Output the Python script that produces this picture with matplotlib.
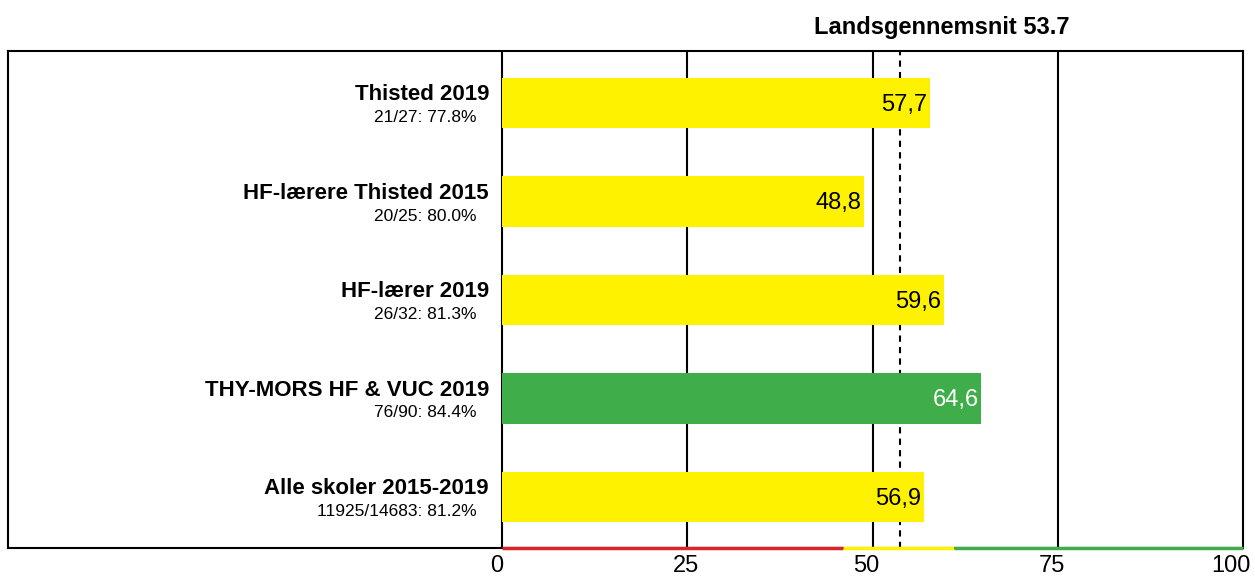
import matplotlib
matplotlib.use("Agg")
import matplotlib.pyplot as plt
import matplotlib.transforms as mtransforms

plt.rcParams['font.family'] = ['Liberation Sans', 'DejaVu Sans']

# data
names = ["Thisted 2019", "HF-lærere Thisted 2015", "HF-lærer 2019",
         "THY-MORS HF & VUC 2019", "Alle skoler 2015-2019"]
subtitles = ["21/27: 77.8%", "20/25: 80.0%", "26/32: 81.3%",
             "76/90: 84.4%", "11925/14683: 81.2%"]
values = [57.7, 48.8, 59.6, 64.6, 56.9]
highlight = [False, False, False, True, False]
landsgennemsnit = 53.7
band_edges = [0, 46, 61, 100]
band_colors = ["#d9262b", "#fff200", "#3fae4a"]
xticks = [0, 25, 50, 75, 100]

YELLOW = "#fff200"
GREEN = "#3fae4a"

fig = plt.figure(figsize=(12.55, 5.78), dpi=100)
W, H = 1255, 578
ax = fig.add_axes([8 / W, 30 / H, (1243 - 8) / W, (548 - 51) / H])

ax.set_xlim(-66.67, 100)
ax.set_ylim(4.518, -0.528)

# vertical lines (separator at 0 and grid)
for g in xticks[:-1]:
    ax.axvline(g, color="black", lw=1.5, zorder=1)
ax.axvline(landsgennemsnit, color="black", lw=1.5, linestyle=(0, (3, 2.5)), zorder=1)

ypos = list(range(len(values)))
colors = [GREEN if h else YELLOW for h in highlight]
ax.barh(ypos, values, height=0.508, color=colors, zorder=2, linewidth=0)

for y, v, h in zip(ypos, values, highlight):
    ax.text(v - 0.3, y + 0.08, f"{v:.1f}".replace(".", ","), ha="right", va="baseline",
            fontsize=17, color="white" if h else "black", zorder=3)

for y, n, s in zip(ypos, names, subtitles):
    ax.text(-1.75, y - 0.03, n, ha="right", va="baseline", fontsize=16, fontweight="bold")
    ax.text(-3.4, y + 0.193, s, ha="right", va="baseline", fontsize=12.5)

# coloured band along the bottom
trans = mtransforms.blended_transform_factory(ax.transData, ax.transAxes)
for i, c in enumerate(band_colors):
    ax.plot([band_edges[i], band_edges[i + 1]], [0, 0], color=c, lw=2.5,
            transform=trans, clip_on=False, zorder=5, solid_capstyle="butt")

for sp in ax.spines.values():
    sp.set_linewidth(1.5)
    sp.set_color("black")

ax.set_yticks([])
ax.set_xticks(xticks)
ax.set_xticklabels([str(t) for t in xticks], fontsize=17)
ax.tick_params(axis="x", length=0, pad=5)
# labels sit a little left of their lines, the last one kept inside the figure
shifts = [-5, -1, -6, -6, -12]
for lab, dx in zip(ax.get_xticklabels(), shifts):
    lab.set_transform(lab.get_transform() + mtransforms.ScaledTranslation(dx / 100, 0, fig.dpi_scale_trans))

fig.text(942 / W, 1 - 34 / H, f"Landsgennemsnit {landsgennemsnit}", ha="center",
         va="baseline", fontsize=17, fontweight="bold")

fig.savefig("out.png", dpi=100)
